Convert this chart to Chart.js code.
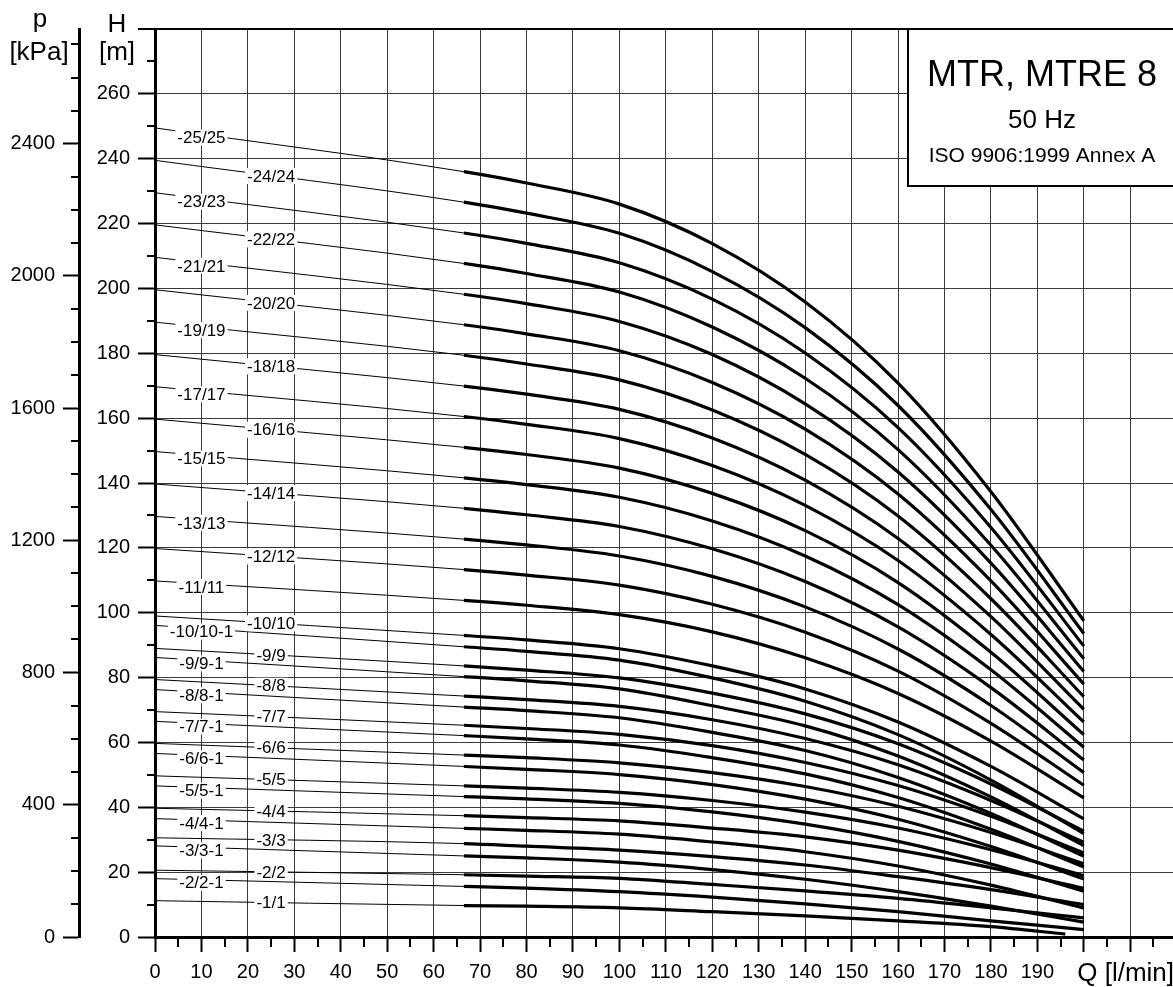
<!DOCTYPE html>
<html>
<head>
<meta charset="utf-8">
<title>MTR, MTRE 8 - 50 Hz</title>
<script src="https://cdn.jsdelivr.net/npm/chart.js@4.4.1/dist/chart.umd.min.js"></script>
<style>
  html, body { margin: 0; padding: 0; background: #fff; }
  canvas { display: block; }
</style>
</head>
<body>
<canvas id="pumpChart" width="1173" height="987"></canvas>
<script>
// flow points [l/min]; -1/1 stops a bit earlier
const flowQ = [0, 66.5, 80, 100, 120, 140, 160, 180, 200];
const flowQ1 = [0, 66.5, 80, 100, 120, 140, 160, 180, 196];

// head [m] per curve
const h25 = [249.5, 236.0, 232.5, 226.0, 213.8, 195.8, 170.8, 137.3, 97.5];
const h24 = [239.5, 226.6, 223.2, 217.0, 205.2, 187.9, 163.9, 131.8, 93.6];
const h23 = [229.5, 217.1, 213.9, 207.9, 196.7, 180.1, 157.1, 126.3, 89.7];
const h22 = [219.6, 207.7, 204.6, 198.9, 188.1, 172.3, 150.3, 120.8, 85.8];
const h21 = [209.6, 198.2, 195.3, 189.8, 179.6, 164.4, 143.4, 115.3, 81.9];
const h20 = [199.6, 188.8, 186.0, 180.8, 171.0, 156.6, 136.6, 109.8, 78.0];
const h19 = [189.6, 179.4, 176.7, 171.8, 162.5, 148.8, 129.8, 104.3, 74.1];
const h18 = [179.6, 169.9, 167.4, 162.7, 153.9, 140.9, 122.9, 98.8, 70.2];
const h17 = [169.7, 160.5, 158.1, 153.7, 145.4, 133.1, 116.1, 93.3, 66.3];
const h16 = [159.7, 151.0, 148.8, 144.6, 136.8, 125.3, 109.3, 87.8, 62.4];
const h15 = [149.7, 141.6, 139.5, 135.6, 128.3, 117.5, 102.5, 82.4, 58.5];
const h14 = [139.7, 132.2, 130.2, 126.6, 119.7, 109.6, 95.6, 76.9, 54.6];
const h13 = [129.7, 122.7, 120.9, 117.5, 111.2, 101.8, 88.8, 71.4, 50.7];
const h12 = [119.8, 113.3, 111.6, 108.5, 102.6, 94.0, 82.0, 65.9, 46.8];
const h11 = [109.8, 103.8, 102.3, 99.4, 94.1, 86.1, 75.1, 60.4, 42.9];
const h10 = [99.0, 93.0, 91.6, 88.9, 83.6, 76.5, 66.3, 52.6, 36.4];
const h10_1 = [96.1, 89.5, 88.1, 85.4, 79.9, 72.7, 62.4, 48.4, 31.9];
const h9 = [89.0, 83.6, 82.3, 79.9, 75.2, 68.8, 59.6, 47.2, 32.6];
const h9_1 = [86.2, 80.3, 79.0, 76.5, 71.3, 65.1, 55.8, 43.2, 28.2];
const h8 = [79.4, 74.3, 73.2, 71.1, 67.0, 61.2, 53.1, 42.1, 29.2];
const h8_1 = [76.3, 70.9, 69.8, 67.6, 63.1, 57.5, 49.2, 38.1, 24.9];
const h7 = [69.5, 65.3, 64.3, 62.5, 59.0, 53.8, 46.7, 37.2, 25.9];
const h7_1 = [66.5, 62.1, 61.1, 59.2, 55.3, 50.3, 43.0, 33.2, 21.6];
const h6 = [59.7, 56.1, 55.3, 53.7, 50.7, 46.4, 40.3, 32.2, 22.6];
const h6_1 = [56.6, 52.6, 51.7, 50.1, 47.0, 42.5, 36.3, 27.9, 17.9];
const h5 = [49.7, 46.6, 45.9, 44.6, 42.1, 38.5, 33.6, 26.9, 18.9];
const h5_1 = [46.6, 43.3, 42.6, 41.2, 38.6, 34.8, 29.5, 22.5, 14.1];
const h4 = [39.7, 37.4, 36.8, 35.8, 33.6, 30.9, 26.8, 21.4, 15.0];
const h4_1 = [36.5, 33.5, 32.9, 31.7, 29.3, 26.3, 21.9, 16.0, 8.9];
const h3 = [30.6, 28.8, 28.0, 26.8, 24.8, 22.2, 18.6, 14.6, 10.0];
const h3_1 = [28.1, 25.0, 24.4, 23.1, 20.8, 17.8, 14.0, 9.5, 4.6];
const h2 = [20.6, 19.2, 18.8, 18.1, 16.2, 14.2, 11.9, 9.0, 5.9];
const h2_1 = [18.0, 15.6, 15.1, 14.0, 12.3, 10.2, 7.8, 5.0, 2.3];
const h1 = [11.2, 9.7, 9.5, 9.0, 7.8, 6.5, 5.0, 3.2, 0.9];

const curveLabels = [
    '-25/25', '-24/24', '-23/23', '-22/22', '-21/21', '-20/20', '-19/19', '-18/18',
    '-17/17', '-16/16', '-15/15', '-14/14', '-13/13', '-12/12', '-11/11',
    '-10/10', '-10/10-1', '-9/9', '-9/9-1', '-8/8', '-8/8-1', '-7/7', '-7/7-1',
    '-6/6', '-6/6-1', '-5/5', '-5/5-1', '-4/4', '-4/4-1', '-3/3', '-3/3-1',
    '-2/2', '-2/2-1', '-1/1'
];
const curveHeads = [
    h25, h24, h23, h22, h21, h20, h19, h18, h17, h16, h15, h14, h13, h12, h11,
    h10, h10_1, h9, h9_1, h8, h8_1, h7, h7_1, h6, h6_1, h5, h5_1, h4, h4_1,
    h3, h3_1, h2, h2_1, h1
];

// labelled pressure ticks [kPa]
const pressureTicks = [0, 400, 800, 1200, 1600, 2000, 2400];

const hMax = 280;          // top of H axis [m]
const kpaPerMetre = 9.81;  // p axis = H * rho * g

const FONT = "'Liberation Sans', Arial, sans-serif";
Chart.defaults.font.family = FONT;
Chart.defaults.color = '#000';

const datasets = curveLabels.map(function(name, i) {
    const qs = name === '-1/1' ? flowQ1 : flowQ;
    return {
        label: name,
        data: curveHeads[i].map((h, k) => ({ x: qs[k], y: h })),
        borderColor: '#000',
        borderWidth: 3,
        pointRadius: 0,
        fill: false,
        cubicInterpolationMode: 'monotone',
        segment: {
            // thin extrapolated part up to the start of the operating range
            borderWidth: ctx => ctx.p0DataIndex === 0 ? 1 : 3.2
        }
    };
});

// curve names on the thin part of each line
const curveLabelPlugin = {
    id: 'curveLabels',
    afterDatasetsDraw(chart) {
        const ctx = chart.ctx;
        const xs = chart.scales.x, ys = chart.scales.y;
        ctx.save();
        ctx.font = '17px ' + FONT;
        ctx.textAlign = 'center';
        ctx.textBaseline = 'middle';
        chart.data.datasets.forEach(function(ds) {
            const name = ds.label;
            const stages = parseInt(name.split('/')[1]);
            const left = name.endsWith('-1') || (stages > 10 && stages % 2 === 1);
            const q = left ? 10 : 25;
            const p0 = ds.data[0], p1 = ds.data[1];
            const h = p0.y + (p1.y - p0.y) * (q - p0.x) / (p1.x - p0.x);
            const px = xs.getPixelForValue(q);
            const py = ys.getPixelForValue(h) + (left ? 3 : 0);
            const w = ctx.measureText(name).width;
            ctx.fillStyle = '#fff';
            ctx.fillRect(px - w / 2 - 2, py - 8, w + 4, 16);
            ctx.fillStyle = '#000';
            ctx.fillText(name, px, py + 1);
        });
        ctx.restore();
    }
};

// minor ticks, axis titles and the title box
const decorPlugin = {
    id: 'decor',
    afterDraw(chart) {
        const ctx = chart.ctx, area = chart.chartArea;
        const xs = chart.scales.x, ys = chart.scales.y, ps = chart.scales.p;
        ctx.save();
        ctx.strokeStyle = '#000';
        ctx.lineWidth = 2;
        ctx.beginPath();
        for (let v = 10; v < hMax; v += 20) {
            const y = Math.round(ys.getPixelForValue(v));
            ctx.moveTo(area.left - 8, y);
            ctx.lineTo(area.left, y);
        }
        for (let v = 100; v < ps.max; v += 100) {
            if (v % 400 === 0) continue;
            const y = Math.round(ps.getPixelForValue(v));
            ctx.moveTo(ps.right - 8, y);
            ctx.lineTo(ps.right, y);
        }
        for (let v = 5; v < xs.max; v += 10) {
            const x = Math.round(xs.getPixelForValue(v));
            ctx.moveTo(x, area.bottom);
            ctx.lineTo(x, area.bottom + 10);
        }
        ctx.stroke();

        ctx.fillStyle = '#000';
        ctx.textBaseline = 'alphabetic';
        ctx.textAlign = 'center';
        ctx.font = '26px ' + FONT;
        ctx.fillText('p', 40, 27);
        ctx.fillText('[kPa]', 39, 60);
        ctx.fillText('H', 117, 32);
        ctx.fillText('[m]', 117, 60);
        ctx.textAlign = 'right';
        ctx.fillText('Q [l/min]', 1174, 981);

        // title box in the upper right corner
        const bx = 908, by = area.top;
        ctx.fillStyle = '#fff';
        ctx.fillRect(bx, by, chart.width - bx + 5, 157);
        ctx.lineWidth = 2;
        ctx.strokeRect(bx, by, chart.width - bx + 5, 157);
        ctx.fillStyle = '#000';
        ctx.textAlign = 'center';
        ctx.font = '36px ' + FONT;
        ctx.fillText('MTR, MTRE 8', 1042, 86);
        ctx.font = '26px ' + FONT;
        ctx.fillText('50 Hz', 1042, 128);
        ctx.font = '21px ' + FONT;
        ctx.fillText('ISO 9906:1999 Annex A', 1042, 162);
        ctx.restore();
    }
};

const gridGrey = '#3a3a3a';

new Chart(document.getElementById('pumpChart').getContext('2d'), {
    type: 'line',
    data: { datasets: datasets },
    plugins: [curveLabelPlugin, decorPlugin],
    options: {
        responsive: false,
        animation: false,
        events: [],
        layout: {
            padding: { top: 29, right: 0, bottom: 0, left: 0 }
        },
        plugins: {
            legend: { display: false },
            tooltip: { enabled: false }
        },
        scales: {
            x: {
                type: 'linear',
                min: 0,
                max: 219.2,
                border: { color: '#000', width: 3 },
                grid: {
                    color: gridGrey,
                    lineWidth: 1,
                    tickLength: 15,
                    tickColor: '#000',
                    tickWidth: 2
                },
                ticks: {
                    stepSize: 10,
                    includeBounds: false,
                    autoSkip: false,
                    maxRotation: 0,
                    padding: 8,
                    font: { size: 20 },
                    callback: v => v < 200 ? v : ''
                },
                afterFit: s => { s.height = 50; }
            },
            y: {
                type: 'linear',
                position: 'left',
                weight: 0,
                min: 0,
                max: hMax,
                border: { color: '#000', width: 3 },
                grid: {
                    color: c => c.tick && c.tick.value === hMax ? '#000' : gridGrey,
                    lineWidth: c => c.tick && c.tick.value === hMax ? 2 : 1,
                    tickLength: 17,
                    tickColor: '#000',
                    tickWidth: 2
                },
                ticks: {
                    stepSize: 20,
                    includeBounds: false,
                    padding: 8,
                    font: { size: 20 },
                    callback: v => v < hMax ? v : ''
                },
                afterFit: s => { s.width = 76; }
            },
            p: {
                type: 'linear',
                position: 'left',
                weight: 1,
                min: 0,
                max: hMax * kpaPerMetre,
                border: { color: '#000', width: 3 },
                grid: {
                    drawOnChartArea: false,
                    tickLength: 16,
                    tickColor: '#000',
                    tickWidth: 2
                },
                ticks: {
                    padding: 8,
                    font: { size: 20 },
                    callback: v => v
                },
                afterBuildTicks: s => {
                    s.ticks = pressureTicks.map(v => ({ value: v }));
                },
                afterFit: s => { s.width = 79; }
            }
        }
    }
});
</script>
</body>
</html>
